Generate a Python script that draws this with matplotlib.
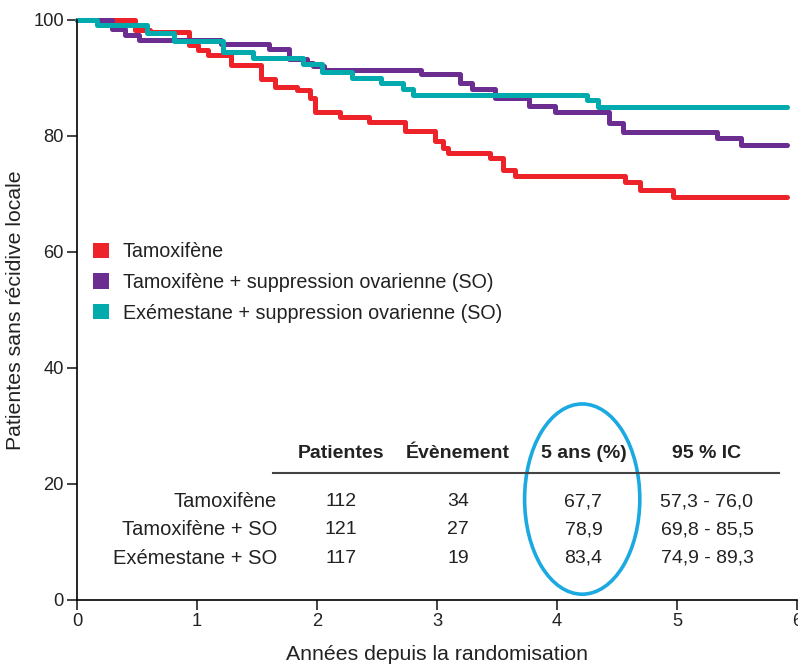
import matplotlib
matplotlib.use('Agg')

import matplotlib.pyplot as plt
from matplotlib.patches import Ellipse, Patch

# survival curves (years, % without local recurrence)
tam_t = [0, 0.48, 0.61, 0.93, 1.01, 1.09, 1.28, 1.53, 1.65, 1.83, 1.94, 1.98,
         2.19, 2.43, 2.73, 2.98, 3.05, 3.09, 3.44, 3.55, 3.65, 4.57, 4.69, 4.97, 5.92]
tam_s = [100, 98.3, 97.9, 95.7, 94.8, 93.9, 92.3, 89.8, 88.5, 87.9, 86.6, 84.1,
         83.3, 82.5, 80.8, 79.1, 77.9, 77.1, 76.2, 74.1, 73.1, 72.1, 70.7, 69.5, 69.5]

tamso_t = [0, 0.29, 0.40, 0.52, 1.20, 1.60, 1.77, 1.92, 1.97, 2.06, 2.87, 3.19,
           3.29, 3.48, 3.77, 3.98, 4.43, 4.55, 5.33, 5.53, 5.92]
tamso_s = [100, 98.5, 97.4, 96.6, 95.9, 95.0, 93.2, 92.6, 92.0, 91.3, 90.7, 89.2,
           88.1, 86.5, 85.1, 84.1, 82.2, 80.7, 79.6, 78.4, 78.4]

exeso_t = [0, 0.17, 0.58, 0.81, 1.22, 1.47, 1.88, 2.04, 2.29, 2.53, 2.72, 2.80,
           4.25, 4.34, 5.92]
exeso_s = [100, 99.1, 97.7, 96.4, 94.4, 93.4, 92.5, 91.1, 90.0, 89.2, 88.1, 87.1,
           86.2, 85.0, 85.0]

legend_labels = ['Tamoxifène',
                 'Tamoxifène + suppression ovarienne (SO)',
                 'Exémestane + suppression ovarienne (SO)']
colors = ['#EE2229', '#6C2D90', '#00AAAD']

table_header = ['Patientes', 'Évènement', '5 ans (%)', '95 % IC']
row_names = ['Tamoxifène', 'Tamoxifène + SO', 'Exémestane + SO']
patients = ['112', '121', '117']
events = ['34', '27', '19']
five_year = ['67,7', '78,9', '83,4']
ci95 = ['57,3 - 76,0', '69,8 - 85,5', '74,9 - 89,3']

plt.rcParams['font.family'] = ['Liberation Sans', 'DejaVu Sans']
txt = '#222222'

W, H = 798, 666
fig = plt.figure(figsize=(W / 100, H / 100), dpi=100)
ax = fig.add_axes([77 / W, 66 / H, 720 / W, 580 / H])

series = [(tam_t, tam_s), (tamso_t, tamso_s), (exeso_t, exeso_s)]
for (t, s), c in zip(series, colors):
    ax.step(t, s, where='post', color=c, lw=3.6, solid_capstyle='round',
            solid_joinstyle='round', clip_on=False)

ax.set_xlim(0, 6)
ax.set_ylim(0, 100)
ax.set_xticks(range(0, 7))
ax.set_yticks(range(0, 101, 20))
ax.spines['top'].set_visible(False)
ax.spines['right'].set_visible(False)
ax.spines['left'].set_linewidth(1.2)
ax.spines['bottom'].set_linewidth(1.2)
ax.tick_params(length=7, width=1.2, pad=2.5, labelsize=13.2, color=txt,
               labelcolor=txt)
ax.set_xlabel('Années depuis la randomisation', fontsize=15.3,
              color=txt, labelpad=11)
ax.set_ylabel('Patientes sans récidive locale', fontsize=15.3,
              color=txt, labelpad=6)

handles = [Patch(facecolor=c, edgecolor='none') for c in colors]
ax.legend(handles, legend_labels, loc='upper left', frameon=False,
          bbox_to_anchor=(93 / W, 1 - 242 / H), bbox_transform=fig.transFigure,
          borderpad=0, borderaxespad=0, fontsize=14.2, handlelength=0.81,
          handleheight=0.81, handletextpad=0.7, labelspacing=0.6,
          labelcolor=txt)

# table below the curves
col_x = [2.20, 3.175, 4.22, 5.25]
head_y = 25.3
row_y = [16.9, 12.07, 7.24]
for x, h in zip(col_x, table_header):
    ax.text(x, head_y, h, ha='center', va='center', fontsize=14,
            fontweight='bold', color=txt)
ax.plot([1.63, 5.85], [21.9, 21.9], color='#444444', lw=1.5)
for i, y in enumerate(row_y):
    ax.text(1.667, y, row_names[i], ha='right', va='center', fontsize=14.5,
            color=txt)
    vals = [patients[i], events[i], five_year[i], ci95[i]]
    for x, v in zip(col_x, vals):
        ax.text(x, y, v, ha='center', va='center', fontsize=14, color=txt)

ax.add_patch(Ellipse((4.21, 17.4), 0.96, 32.8, fill=False,
                     edgecolor='#1BA9E1', lw=2.6))

fig.savefig('out.png', dpi=100)
